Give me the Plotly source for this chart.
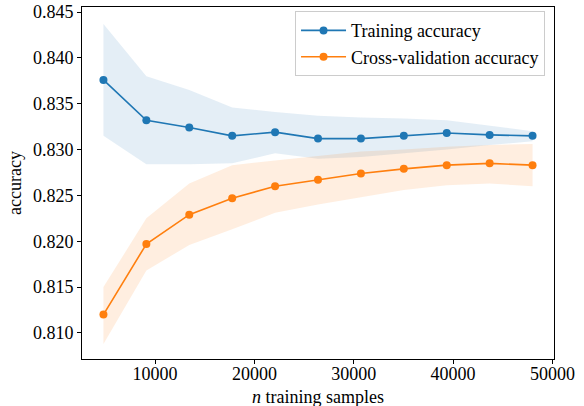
import plotly.graph_objects as go

train_sizes = [4800, 9120, 13440, 17760, 22080, 26400, 30720, 35040, 39360, 43680, 48000]
train_mean = [0.8376, 0.8332, 0.8324, 0.8315, 0.8319, 0.8312, 0.8312, 0.8315, 0.8318, 0.8316, 0.8315]
train_upper = [0.8437, 0.8380, 0.8365, 0.8346, 0.8341, 0.8337, 0.8335, 0.8334, 0.8332, 0.8326, 0.8320]
train_lower = [0.8315, 0.8284, 0.8284, 0.8285, 0.8296, 0.8290, 0.8292, 0.8296, 0.8300, 0.8305, 0.8309]
cv_mean = [0.8120, 0.8197, 0.8229, 0.8247, 0.8260, 0.8267, 0.8274, 0.8279, 0.8283, 0.8285, 0.8283]
cv_upper = [0.8150, 0.8225, 0.8263, 0.8283, 0.8288, 0.8293, 0.8298, 0.8300, 0.8303, 0.8305, 0.8306]
cv_lower = [0.8088, 0.8168, 0.8196, 0.8213, 0.8231, 0.8240, 0.8248, 0.8256, 0.8261, 0.8263, 0.8260]

x_ticks = [10000, 20000, 30000, 40000, 50000]
y_ticks = [0.810, 0.815, 0.820, 0.825, 0.830, 0.835, 0.840, 0.845]

BLUE = "#1f77b4"
ORANGE = "#ff7f0e"
FONT = "Liberation Serif, Times New Roman, serif"

fig = go.Figure()

fig.add_trace(go.Scatter(
    x=train_sizes + train_sizes[::-1],
    y=train_upper + train_lower[::-1],
    fill="toself", fillcolor="rgba(31,119,180,0.12)",
    line=dict(width=0), mode="lines", showlegend=False, hoverinfo="skip"))
fig.add_trace(go.Scatter(
    x=train_sizes + train_sizes[::-1],
    y=cv_upper + cv_lower[::-1],
    fill="toself", fillcolor="rgba(255,127,14,0.13)",
    line=dict(width=0), mode="lines", showlegend=False, hoverinfo="skip"))

fig.add_trace(go.Scatter(
    x=train_sizes, y=train_mean, mode="lines+markers",
    name="Training accuracy",
    line=dict(color=BLUE, width=1.6), marker=dict(color=BLUE, size=8)))
fig.add_trace(go.Scatter(
    x=train_sizes, y=cv_mean, mode="lines+markers",
    name="Cross-validation accuracy",
    line=dict(color=ORANGE, width=1.6), marker=dict(color=ORANGE, size=8)))

axis_common = dict(showline=True, linecolor="black", linewidth=1, mirror=True,
                   ticks="outside", ticklen=4, tickcolor="black", showgrid=False,
                   zeroline=False, automargin=False,
                   tickfont=dict(family=FONT, size=18, color="black"))

fig.update_xaxes(range=[2640, 50160], tickvals=x_ticks, tickformat="d",
                 ticklabelstandoff=-6, **axis_common)
fig.update_yaxes(range=[0.80716, 0.84555], tickvals=y_ticks, tickformat=".3f", **axis_common)

fig.add_annotation(text="<i>n</i> training samples", xref="paper", yref="paper",
                   x=0.5, y=-0.108, xanchor="center", yanchor="middle", showarrow=False,
                   font=dict(family=FONT, size=18, color="black"))
fig.add_annotation(text="accuracy", xref="paper", yref="paper",
                   x=-0.142, y=0.5, xanchor="center", yanchor="middle", showarrow=False,
                   textangle=-90, font=dict(family=FONT, size=18, color="black"))

fig.update_layout(
    width=584, height=406,
    margin=dict(l=82, r=30, t=7, b=47),
    plot_bgcolor="white", paper_bgcolor="white",
    font=dict(family=FONT, size=18, color="black"),
    legend=dict(x=0.981, y=0.988, xanchor="right", yanchor="top",
                bgcolor="rgba(255,255,255,0.8)", bordercolor="#cccccc", borderwidth=1,
                font=dict(family=FONT, size=18, color="black"),
                tracegroupgap=0, itemwidth=45),
    showlegend=True,
)

fig.write_html("out.html", config={"displayModeBar": False})

with open("out.html", "r", encoding="utf-8") as f:
    html = f.read()
html = html.replace("<body>", '<body style="margin:0;padding:0;">', 1)
with open("out.html", "w", encoding="utf-8") as f:
    f.write(html)
